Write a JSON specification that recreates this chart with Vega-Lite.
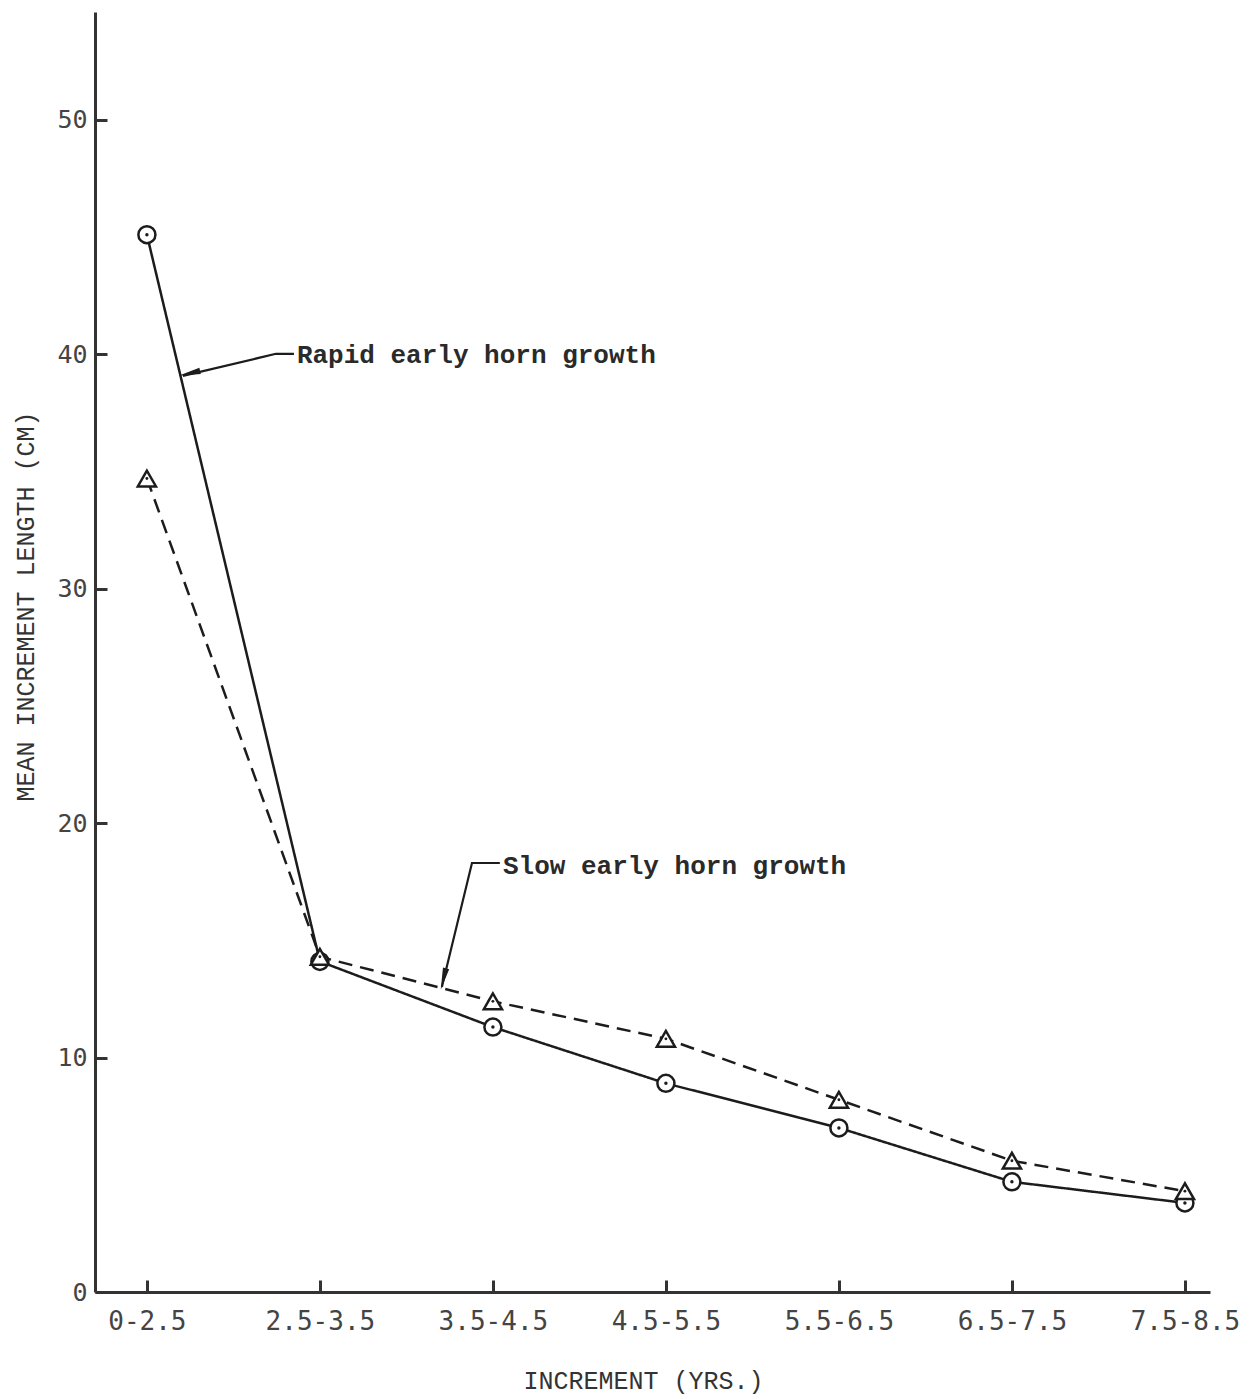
{
  "$schema": "https://vega.github.io/schema/vega-lite/v6.json",
  "width": 1115,
  "height": 1280,
  "autosize": "none",
  "padding": {"left": 95, "top": 12, "right": 42, "bottom": 107},
  "background": "white",
  "config": {"view": {"stroke": null}, "axis": {"grid": false}},
  "datasets": {
    "growth": [
      {"increment": "0-2.5", "idx": 0, "series": "Rapid early horn growth", "length": 45.1},
      {"increment": "2.5-3.5", "idx": 1, "series": "Rapid early horn growth", "length": 14.1},
      {"increment": "3.5-4.5", "idx": 2, "series": "Rapid early horn growth", "length": 11.3},
      {"increment": "4.5-5.5", "idx": 3, "series": "Rapid early horn growth", "length": 8.9},
      {"increment": "5.5-6.5", "idx": 4, "series": "Rapid early horn growth", "length": 7.0},
      {"increment": "6.5-7.5", "idx": 5, "series": "Rapid early horn growth", "length": 4.7},
      {"increment": "7.5-8.5", "idx": 6, "series": "Rapid early horn growth", "length": 3.8},
      {"increment": "0-2.5", "idx": 0, "series": "Slow early horn growth", "length": 34.7},
      {"increment": "2.5-3.5", "idx": 1, "series": "Slow early horn growth", "length": 14.3},
      {"increment": "3.5-4.5", "idx": 2, "series": "Slow early horn growth", "length": 12.4},
      {"increment": "4.5-5.5", "idx": 3, "series": "Slow early horn growth", "length": 10.8},
      {"increment": "5.5-6.5", "idx": 4, "series": "Slow early horn growth", "length": 8.2},
      {"increment": "6.5-7.5", "idx": 5, "series": "Slow early horn growth", "length": 5.6},
      {"increment": "7.5-8.5", "idx": 6, "series": "Slow early horn growth", "length": 4.3}
    ],
    "arrows": [
      {"arrow": "rapid", "ord": 1, "idx": 0.850, "val": 40.02},
      {"arrow": "rapid", "ord": 2, "idx": 0.746, "val": 40.02},
      {"arrow": "rapid", "ord": 3, "idx": 0.208, "val": 39.08},
      {"arrow": "slow", "ord": 1, "idx": 2.040, "val": 18.30},
      {"arrow": "slow", "ord": 2, "idx": 1.879, "val": 18.30},
      {"arrow": "slow", "ord": 3, "idx": 1.705, "val": 13.01}
    ],
    "heads": [
      {"arrow": "rapid", "idx": 0.266, "val": 39.22},
      {"arrow": "slow", "idx": 1.719, "val": 13.50}
    ],
    "labels": [
      {"label": "Rapid early horn growth", "idx": 0.867, "val": 39.97},
      {"label": "Slow early horn growth", "idx": 2.058, "val": 18.17}
    ]
  },
  "layer": [
    {
      "data": {"name": "growth"},
      "mark": {"type": "line", "strokeWidth": 2.5, "color": "#1c1c1c"},
      "encoding": {
        "x": {
          "field": "idx", "type": "quantitative",
          "scale": {"domain": [-0.3, 6.145], "nice": false, "zero": false},
          "axis": {
            "title": "INCREMENT (YRS.)",
            "values": [0, 1, 2, 3, 4, 5, 6],
            "labelExpr": "['0-2.5','2.5-3.5','3.5-4.5','4.5-5.5','5.5-6.5','6.5-7.5','7.5-8.5'][datum.value]",
            "tickSize": -12, "tickWidth": 3, "tickColor": "#333",
            "domainWidth": 3, "domainColor": "#333",
            "labelFont": "DejaVu Sans Mono", "labelFontSize": 26, "labelColor": "#444",
            "labelPadding": 28, "labelFlush": false, "labelOverlap": false,
            "titleFont": "Liberation Mono", "titleFontSize": 25, "titleFontWeight": "normal", "titleColor": "#333",
            "titleX": 548, "titleY": 88, "titleBaseline": "middle", "titleAlign": "center",
            "encode": {"ticks": {"update": {"y": {"value": 0}, "y2": {"value": -12}}}}
          }
        },
        "y": {
          "field": "length", "type": "quantitative",
          "scale": {"domain": [0, 54.6], "nice": false},
          "axis": {
            "title": "MEAN INCREMENT LENGTH (CM)",
            "values": [0, 10, 20, 30, 40, 50],
            "tickSize": -12, "tickWidth": 3, "tickColor": "#333",
            "domainWidth": 3, "domainColor": "#333",
            "labelFont": "DejaVu Sans Mono", "labelFontSize": 25, "labelColor": "#444",
            "labelPadding": 20, "labelFlush": false,
            "titleFont": "Liberation Mono", "titleFontSize": 25, "titleFontWeight": "normal", "titleColor": "#333",
            "titleX": -70, "titleY": 594, "titleAngle": 270, "titleBaseline": "middle", "titleAlign": "center",
            "encode": {"ticks": {"update": {"x": {"value": 0}, "x2": {"value": 12}}}}
          }
        },
        "detail": {"field": "series"},
        "strokeDash": {
          "field": "series", "type": "nominal",
          "scale": {"domain": ["Rapid early horn growth", "Slow early horn growth"], "range": [[1, 0], [14, 8]]},
          "legend": null
        }
      }
    },
    {
      "data": {"name": "growth"},
      "transform": [{"filter": "datum.series === 'Rapid early horn growth'"}],
      "mark": {"type": "point", "shape": "circle", "filled": true, "fill": "white", "stroke": "#1c1c1c", "strokeWidth": 2.5, "size": 290, "opacity": 1},
      "encoding": {
        "x": {"field": "idx", "type": "quantitative"},
        "y": {"field": "length", "type": "quantitative"}
      }
    },
    {
      "data": {"name": "growth"},
      "transform": [{"filter": "datum.series === 'Rapid early horn growth'"}],
      "mark": {"type": "point", "shape": "circle", "filled": true, "color": "#1c1c1c", "size": 12, "opacity": 1},
      "encoding": {
        "x": {"field": "idx", "type": "quantitative"},
        "y": {"field": "length", "type": "quantitative"}
      }
    },
    {
      "data": {"name": "growth"},
      "transform": [{"filter": "datum.series === 'Slow early horn growth'"}],
      "mark": {"type": "point", "shape": "triangle-up", "filled": true, "fill": "white", "stroke": "#1c1c1c", "strokeWidth": 2.5, "size": 330, "opacity": 1},
      "encoding": {
        "x": {"field": "idx", "type": "quantitative"},
        "y": {"field": "length", "type": "quantitative"}
      }
    },
    {
      "data": {"name": "growth"},
      "transform": [{"filter": "datum.series === 'Slow early horn growth'"}],
      "mark": {"type": "point", "shape": "circle", "filled": true, "color": "#1c1c1c", "size": 8, "opacity": 1, "dy": 2},
      "encoding": {
        "x": {"field": "idx", "type": "quantitative"},
        "y": {"field": "length", "type": "quantitative"}
      }
    },
    {
      "data": {"name": "arrows"},
      "mark": {"type": "line", "strokeWidth": 2.2, "color": "#1c1c1c"},
      "encoding": {
        "x": {"field": "idx", "type": "quantitative"},
        "y": {"field": "val", "type": "quantitative"},
        "detail": {"field": "arrow"},
        "order": {"field": "ord"}
      }
    },
    {
      "data": {"name": "heads"},
      "transform": [{"filter": "datum.arrow === 'rapid'"}],
      "mark": {"type": "point", "shape": "wedge", "filled": true, "color": "#1c1c1c", "size": 650, "angle": 257, "opacity": 1},
      "encoding": {
        "x": {"field": "idx", "type": "quantitative"},
        "y": {"field": "val", "type": "quantitative"}
      }
    },
    {
      "data": {"name": "heads"},
      "transform": [{"filter": "datum.arrow === 'slow'"}],
      "mark": {"type": "point", "shape": "wedge", "filled": true, "color": "#1c1c1c", "size": 650, "angle": 194, "opacity": 1},
      "encoding": {
        "x": {"field": "idx", "type": "quantitative"},
        "y": {"field": "val", "type": "quantitative"}
      }
    },
    {
      "data": {"name": "labels"},
      "mark": {"type": "text", "align": "left", "baseline": "middle", "font": "Liberation Mono", "fontSize": 26, "fontWeight": "bold", "color": "#2a2a2a"},
      "encoding": {
        "x": {"field": "idx", "type": "quantitative"},
        "y": {"field": "val", "type": "quantitative"},
        "text": {"field": "label"}
      }
    }
  ]
}
